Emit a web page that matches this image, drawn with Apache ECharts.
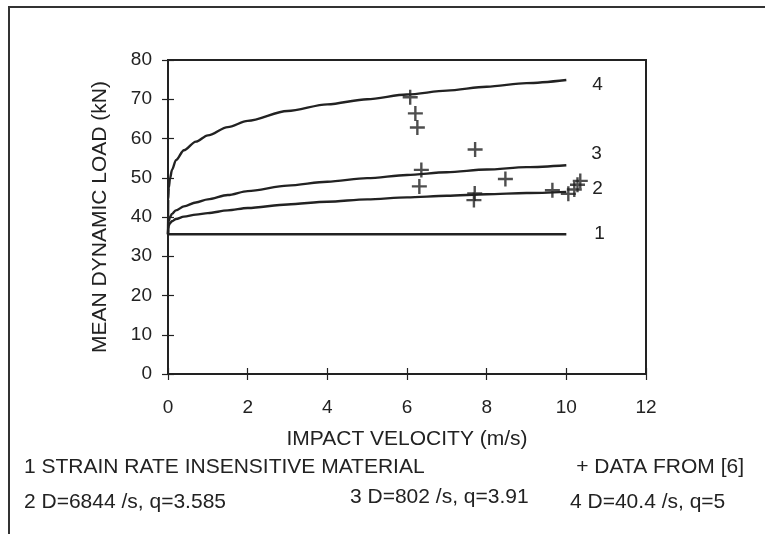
<!DOCTYPE html>
<html>
<head>
<meta charset="utf-8">
<script src="https://cdn.jsdelivr.net/npm/echarts@6/dist/echarts.min.js"></script>
<style>
html,body{margin:0;padding:0;background:#fff;}
#chart{width:765px;height:534px;}
</style>
</head>
<body>
<div id="chart"></div>
<script>
// Impact velocity sample points (m/s) for the model curves
const velocity = [0, 0.005, 0.02, 0.05, 0.1, 0.2, 0.4, 0.7, 1, 1.5, 2, 3, 4, 5, 6, 7, 8, 9, 10];
// Curve 1: strain rate insensitive material (kN)
const curve1 = [35.6, 35.6, 35.6, 35.6, 35.6, 35.6, 35.6, 35.6, 35.6, 35.6, 35.6, 35.6, 35.6, 35.6, 35.6, 35.6, 35.6, 35.6, 35.6];
// Curve 2: D=6844 /s, q=3.585
const curve2 = [35.6, 37.0, 37.8, 38.4, 38.9, 39.5, 40.1, 40.6, 41.0, 41.7, 42.3, 43.2, 43.9, 44.5, 45.0, 45.4, 45.8, 46.1, 46.4];
// Curve 3: D=802 /s, q=3.91
const curve3 = [35.6, 38.0, 39.0, 40.0, 40.8, 41.7, 42.7, 43.7, 44.5, 45.6, 46.6, 48.0, 49.0, 49.9, 50.7, 51.4, 52.1, 52.7, 53.2];
// Curve 4: D=40.4 /s, q=5
const curve4 = [35.6, 44.5, 47.5, 49.8, 52.0, 54.5, 57.0, 59.2, 60.8, 62.9, 64.5, 67.0, 68.7, 70.0, 71.2, 72.2, 73.2, 74.1, 74.9];
// Experimental data from [6]
const dataVelocity = [6.08, 6.21, 6.26, 6.36, 6.31, 7.71, 8.47, 7.70, 7.68, 9.65, 10.05, 10.2, 10.28, 10.35];
const dataLoad = [70.5, 66.4, 62.8, 52.0, 47.8, 57.2, 49.7, 46.0, 44.3, 46.8, 45.9, 47.0, 48.2, 49.2];
// Axis ticks
const xTicks = [0, 2, 4, 6, 8, 10, 12];
const yTicks = [0, 10, 20, 30, 40, 50, 60, 70, 80];
// Curve labels
const curveLabels = ['1', '2', '3', '4'];

const FONT = 'Liberation Sans, Arial, sans-serif';
const INK = '#222';

function pairs(xs, ys) { return xs.map((x, i) => [x, ys[i]]); }

const chart = echarts.init(document.getElementById('chart'), null, {renderer: 'canvas'});

const curves = [curve1, curve2, curve3, curve4];
const labelOffsets = [[20, -1], [18, -3], [17, -11], [18, 5]];

const lineSeries = curves.map((c, i) => ({
  type: 'line',
  data: pairs(velocity, c),
  showSymbol: false,
  smooth: 0.3,
  smoothMonotone: 'x',
  lineStyle: {color: INK, width: 2.4},
  endLabel: {
    show: true,
    formatter: curveLabels[i],
    color: INK,
    fontFamily: FONT,
    fontSize: 19,
    offset: labelOffsets[i]
  },
  z: 3,
  silent: true
}));

const tickLine = {color: INK, width: 1.2};
const BIG = '21px ' + FONT;

chart.setOption({
  animation: false,
  backgroundColor: '#fff',
  grid: {left: 168, right: 119, top: 60, bottom: 160, show: true, borderColor: INK, borderWidth: 2},
  xAxis: [{
    type: 'value', min: 0, max: 12, interval: 2,
    name: 'IMPACT VELOCITY (m/s)', nameLocation: 'middle', nameGap: 55,
    nameTextStyle: {color: INK, fontFamily: FONT, fontSize: 21},
    axisLine: {show: true, lineStyle: {color: INK, width: 2}},
    axisTick: {show: true, length: 6, inside: false, lineStyle: tickLine},
    axisLabel: {color: INK, fontFamily: FONT, fontSize: 19, margin: 24, formatter: v => xTicks.includes(v) ? String(v) : ''},
    splitLine: {show: false}
  }, {
    type: 'value', min: 0, max: 12, interval: 2, position: 'bottom',
    axisLine: {show: false}, axisLabel: {show: false},
    axisTick: {show: true, length: 6, inside: true, lineStyle: tickLine},
    splitLine: {show: false}
  }],
  yAxis: [{
    type: 'value', min: 0, max: 80, interval: 10,
    name: 'MEAN DYNAMIC LOAD (kN)', nameLocation: 'middle', nameGap: 57, nameRotate: 90,
    nameTextStyle: {color: INK, fontFamily: FONT, fontSize: 21},
    axisLine: {show: true, lineStyle: {color: INK, width: 2}},
    axisTick: {show: true, length: 6, inside: false, lineStyle: tickLine},
    axisLabel: {color: INK, fontFamily: FONT, fontSize: 19, margin: 16, formatter: v => yTicks.includes(v) ? String(v) : ''},
    splitLine: {show: false}
  }, {
    type: 'value', min: 0, max: 80, interval: 10, position: 'left',
    axisLine: {show: false}, axisLabel: {show: false},
    axisTick: {show: true, length: 6, inside: true, lineStyle: tickLine},
    splitLine: {show: false}
  }],
  series: lineSeries.concat([{
    type: 'scatter',
    data: pairs(dataVelocity, dataLoad),
    symbol: 'path://M4.2,0H5.8V4.2H10V5.8H5.8V10H4.2V5.8H0V4.2H4.2Z',
    symbolSize: 15,
    itemStyle: {color: INK},
    z: 4,
    silent: true
  }]),
  graphic: [
    {type: 'polyline', shape: {points: [[9, 534], [9, 7], [765, 7]]}, style: {stroke: '#333', lineWidth: 2, fill: null}},
    {type: 'text', x: 24, y: 467, style: {text: '1 STRAIN RATE INSENSITIVE MATERIAL', fill: INK, font: BIG, verticalAlign: 'middle'}},
    {type: 'text', x: 744, y: 467, style: {text: '+ DATA FROM [6]', fill: INK, font: BIG, align: 'right', verticalAlign: 'middle'}},
    {type: 'text', x: 24, y: 502, style: {text: '2 D=6844 /s, q=3.585', fill: INK, font: BIG, verticalAlign: 'middle'}},
    {type: 'text', x: 350, y: 497, style: {text: '3 D=802 /s, q=3.91', fill: INK, font: BIG, verticalAlign: 'middle'}},
    {type: 'text', x: 570, y: 502, style: {text: '4 D=40.4 /s, q=5', fill: INK, font: BIG, verticalAlign: 'middle'}}
  ]
});
</script>
</body>
</html>
